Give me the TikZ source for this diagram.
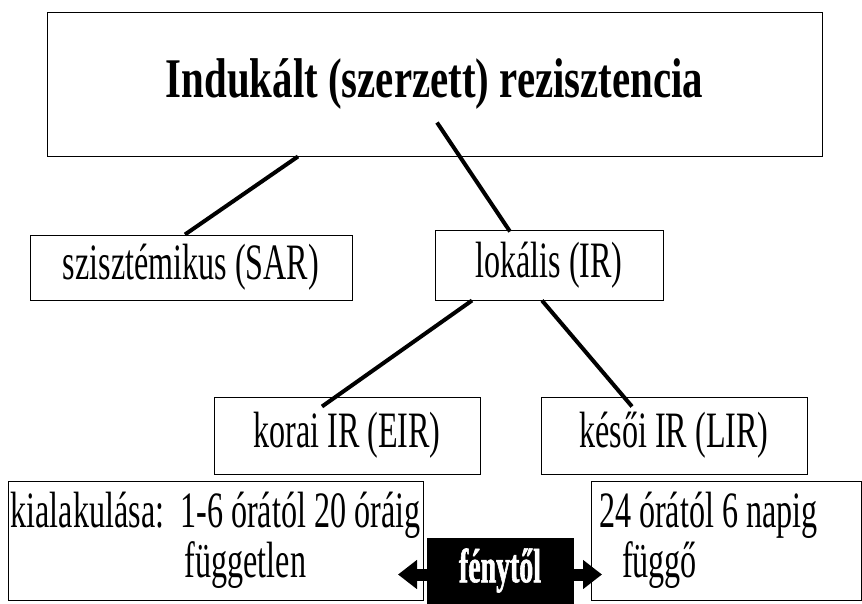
\documentclass[tikz,border=0pt]{standalone}
\usepackage{fontspec}
\setmainfont{Liberation Serif}
\newfontfamily\narrowfont[FakeStretch=0.63]{Liberation Serif}
\newfontfamily\heavyfont[FakeStretch=0.73]{Liberation Serif}
\newfontfamily\tagfont[FakeStretch=0.58,FakeBold=1.2]{Liberation Serif Bold}
\usetikzlibrary{arrows.meta}

\begin{document}
\begin{tikzpicture}[x=1pt,y=-1pt,
    box/.style={draw, line width=1pt, inner sep=0pt, font=\narrowfont\fontsize{51}{50}\selectfont},
    link/.style={line width=4pt},
    pointer/.style={line width=12pt, -{Triangle[length=19pt,width=28pt]}}]
  \useasboundingbox (0,0) rectangle (862,603);
  \node[box, minimum width=775pt, minimum height=144pt, font=\heavyfont\bfseries\fontsize{56}{56}\selectfont] (rez) at (434.5,84) {Indukált (szerzett) rezisztencia};
  \node[box, minimum width=322pt, minimum height=65pt] (sar) at (191,267.5) {szisztémikus (SAR)};
  \node[box, minimum width=228pt, minimum height=70pt] (lok) at (549,265) {lokális (IR)};
  \node[box, minimum width=266pt, minimum height=77pt] (eir) at (347,435.5) {korai IR (EIR)};
  \node[box, minimum width=266pt, minimum height=77pt] (lir) at (674,435.5) {késői IR (LIR)};
  \node[box, minimum width=415pt, minimum height=119pt, align=left] (kial) at (215.5,540.5) {kialakulása:~~1-6 órától 20 óráig\\\hspace*{174pt}független};
  \node[box, minimum width=270pt, minimum height=119pt, text width=254pt, align=flush left] (napig) at (726,540.5) {24 órától 6 napig\\\hspace*{23pt}függő};

  % connectors
  \draw[link] ([xshift=-6pt]sar.north) -- ([xshift=-136.5pt]rez.south);
  \draw[link] ([xshift=-39pt,yshift=-2pt]lok.north) -- ([xshift=2.5pt,yshift=34pt]rez.south);
  \draw[link] ([xshift=-77pt]lok.south) -- ([xshift=-25pt,yshift=-10pt]eir.north);
  \draw[link] ([xshift=-7pt]lok.south) -- ([xshift=-42pt,yshift=-10pt]lir.north);

  % light
  \coordinate (feny) at (500,570.5);
  \draw[pointer] ([yshift=-4pt]feny) -- ([xshift=-102pt,yshift=-4pt]feny);
  \draw[pointer] ([yshift=-4pt]feny) -- ([xshift=102pt,yshift=-4pt]feny);
  \node[box, fill=black, text=white, minimum width=146pt, minimum height=65pt, font=\tagfont\fontsize{48}{48}\selectfont] (fenytol) at (feny) {fénytől};
\end{tikzpicture}
\end{document}
